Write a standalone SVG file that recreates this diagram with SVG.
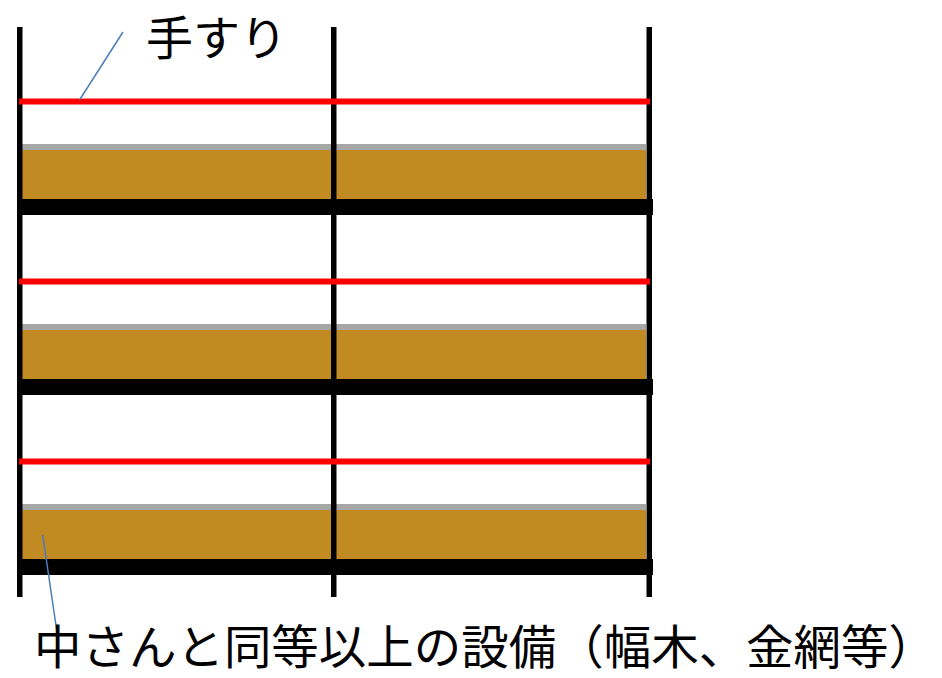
<svg xmlns="http://www.w3.org/2000/svg" width="942" height="678" viewBox="0 0 942 678">
<style>
.post{fill:#000}
.rail{stroke:#FF0000;stroke-width:6}
.gray{fill:#A6A6A6}
.board{fill:#C28A22}
.beam{fill:#000}
.leader{stroke:#4A7EBB;stroke-width:1.5;fill:none}
.lbl{font-family:"Noto Sans CJK JP",sans-serif;font-size:47px;fill:#000}
</style>
<rect width="942" height="678" fill="#fff"/>
<g id="tier1">
<rect class="gray" x="22" y="144" width="624" height="6"/>
<rect class="board" x="22" y="150" width="624" height="49"/>
<rect class="beam" x="17" y="199" width="636" height="16"/>
</g>
<g id="tier2">
<rect class="gray" x="22" y="324" width="624" height="6"/>
<rect class="board" x="22" y="330" width="624" height="49"/>
<rect class="beam" x="17" y="379" width="636" height="16"/>
</g>
<g id="tier3">
<rect class="gray" x="22" y="504" width="624" height="6"/>
<rect class="board" x="22" y="510" width="624" height="49"/>
<rect class="beam" x="17" y="559" width="636" height="16"/>
</g>
<g id="posts">
<rect class="post" x="17" y="27" width="5.5" height="570"/>
<rect class="post" x="331" y="27" width="5.5" height="570"/>
<rect class="post" x="646.5" y="27" width="5.5" height="570"/>
</g>
<g id="handrails">
<line class="rail" x1="19" y1="101.5" x2="650" y2="101.5"/>
<line class="rail" x1="19" y1="281.5" x2="650" y2="281.5"/>
<line class="rail" x1="19" y1="461.5" x2="650" y2="461.5"/>
</g>
<g id="connectors">
<line class="leader" x1="123" y1="32" x2="79.5" y2="100"/>
<line class="leader" x1="42.7" y1="535" x2="58.3" y2="641"/>
</g>
<g id="label-handrail">
<text class="lbl" x="146" y="55">手すり</text>
</g>
<g id="label-toeboard">
<text class="lbl" x="34" y="664" textLength="902" lengthAdjust="spacingAndGlyphs">中さんと同等以上の設備（幅木、金網等）</text>
</g>
</svg>
